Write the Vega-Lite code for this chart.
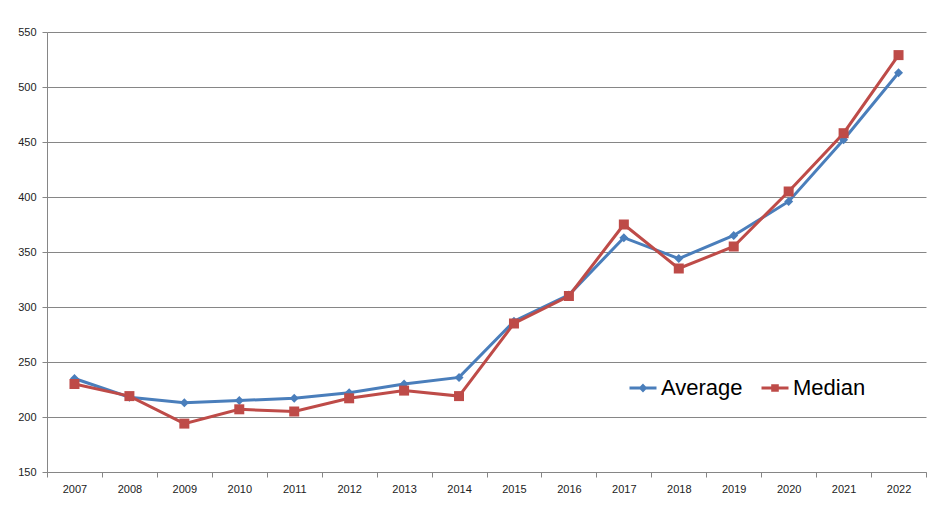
{
  "$schema": "https://vega.github.io/schema/vega-lite/v6.json",
  "width": 879,
  "height": 440,
  "autosize": {"type": "none"},
  "padding": {"left": 47, "top": 32, "right": 26, "bottom": 47},
  "background": "white",
  "config": {"view": {"stroke": null}, "font": "Liberation Sans"},
  "data": {
    "values": [
      {"year": "2007", "series": "Average", "value": 235},
      {"year": "2008", "series": "Average", "value": 218},
      {"year": "2009", "series": "Average", "value": 213},
      {"year": "2010", "series": "Average", "value": 215},
      {"year": "2011", "series": "Average", "value": 217},
      {"year": "2012", "series": "Average", "value": 222},
      {"year": "2013", "series": "Average", "value": 230},
      {"year": "2014", "series": "Average", "value": 236},
      {"year": "2015", "series": "Average", "value": 287},
      {"year": "2016", "series": "Average", "value": 311},
      {"year": "2017", "series": "Average", "value": 363},
      {"year": "2018", "series": "Average", "value": 344},
      {"year": "2019", "series": "Average", "value": 365},
      {"year": "2020", "series": "Average", "value": 396},
      {"year": "2021", "series": "Average", "value": 452},
      {"year": "2022", "series": "Average", "value": 513},
      {"year": "2007", "series": "Median", "value": 230},
      {"year": "2008", "series": "Median", "value": 219},
      {"year": "2009", "series": "Median", "value": 194},
      {"year": "2010", "series": "Median", "value": 207},
      {"year": "2011", "series": "Median", "value": 205},
      {"year": "2012", "series": "Median", "value": 217},
      {"year": "2013", "series": "Median", "value": 224},
      {"year": "2014", "series": "Median", "value": 219},
      {"year": "2015", "series": "Median", "value": 285},
      {"year": "2016", "series": "Median", "value": 310},
      {"year": "2017", "series": "Median", "value": 375},
      {"year": "2018", "series": "Median", "value": 335},
      {"year": "2019", "series": "Median", "value": 355},
      {"year": "2020", "series": "Median", "value": 405},
      {"year": "2021", "series": "Median", "value": 458},
      {"year": "2022", "series": "Median", "value": 529}
    ]
  },
  "encoding": {
    "x": {
      "field": "year",
      "type": "ordinal",
      "bandPosition": 0.5,
      "scale": {"type": "band", "paddingInner": 0, "paddingOuter": 0},
      "axis": {
        "title": null,
        "labelAngle": 0,
        "tickBand": "extent",
        "grid": false,
        "domainColor": "#868686",
        "tickColor": "#868686",
        "tickSize": 5,
        "labelFontSize": 11,
        "labelColor": "#222222",
        "labelPadding": 6
      }
    },
    "y": {
      "field": "value",
      "type": "quantitative",
      "scale": {"domain": [150, 550], "nice": false, "zero": false},
      "axis": {
        "title": null,
        "values": [150, 200, 250, 300, 350, 400, 450, 500, 550],
        "gridColor": "#868686",
        "gridWidth": 1,
        "domainColor": "#868686",
        "tickColor": "#868686",
        "tickSize": 5,
        "labelFontSize": 11,
        "labelColor": "#222222",
        "labelPadding": 6
      }
    },
    "color": {
      "field": "series",
      "type": "nominal",
      "scale": {"domain": ["Average", "Median"], "range": ["#4A7EBB", "#BE4B48"]},
      "legend": {
        "orient": "none",
        "legendX": 581,
        "legendY": 341,
        "direction": "horizontal",
        "title": null,
        "labelFontSize": 22,
        "labelColor": "#000000",
        "symbolSize": 729,
        "symbolStrokeWidth": 3,
        "columnPadding": 12,
        "labelOffset": 3,
        "encode": {
          "symbols": {
            "update": {
              "shape": {"signal": "datum.value === 'Average' ? 'M-1,0H1M0,-0.17L0.17,0L0,0.17L-0.17,0Z' : 'M-1,0H1M-0.17,-0.17H0.17V0.17H-0.17Z'"},
              "fill": {"scale": "color", "field": "value"},
              "stroke": {"scale": "color", "field": "value"},
              "strokeWidth": {"value": 3},
              "opacity": {"value": 1}
            }
          }
        }
      }
    }
  },
  "layer": [
    {"mark": {"type": "line", "strokeWidth": 3}},
    {
      "transform": [{"filter": "datum.series === 'Average'"}],
      "mark": {"type": "point", "filled": true, "opacity": 1, "size": 81, "shape": "diamond"}
    },
    {
      "transform": [{"filter": "datum.series === 'Median'"}],
      "mark": {"type": "point", "filled": true, "opacity": 1, "size": 100, "shape": "square"}
    }
  ]
}
